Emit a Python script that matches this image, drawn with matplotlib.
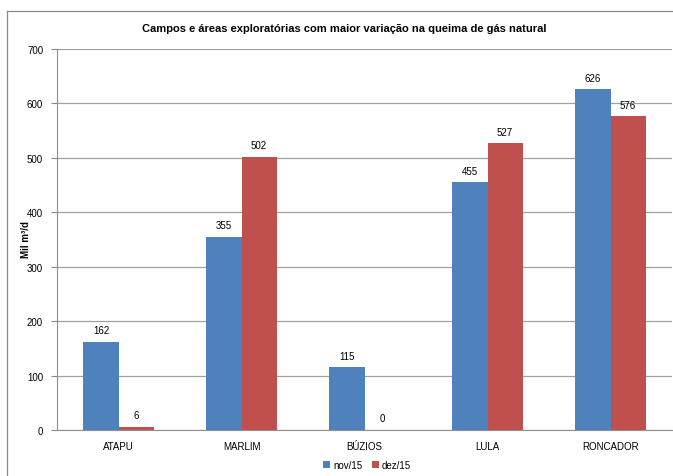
import matplotlib
matplotlib.use("Agg")
import matplotlib.pyplot as plt
import numpy as np
from matplotlib.lines import Line2D

categories = ["ATAPU", "MARLIM", "BÚZIOS", "LULA", "RONCADOR"]
nov15 = [162, 355, 115, 455, 626]
dez15 = [6, 502, 0, 527, 576]
series_names = ["nov/15", "dez/15"]

plt.rcParams['font.family'] = ['Liberation Sans', 'DejaVu Sans']

fig = plt.figure(figsize=(6.73, 4.77), dpi=100)
ax = fig.add_axes([57/673, 46/477, 615/673, 381/477])

x = np.arange(len(categories))
w = 0.285
b1 = ax.bar(x - w/2, nov15, w, color="#4F81BD", label=series_names[0])
b2 = ax.bar(x + w/2, dez15, w, color="#C0504D", label=series_names[1])

for bars, vals in ((b1, nov15), (b2, dez15)):
    for r, v in zip(bars, vals):
        ax.text(r.get_x() + r.get_width()/2, v + 12, str(v), ha="center", va="bottom", fontsize=7)

ax.set_xlim(-0.5, len(categories) - 0.5)
ax.set_ylim(0, 700)
ax.set_yticks(range(0, 701, 100))
ax.set_xticks(x)
ax.set_xticklabels(categories, fontsize=7)
ax.tick_params(axis='y', labelsize=7, length=4, color="#888888", pad=6)
ax.tick_params(axis='x', length=0, pad=8)
ax.yaxis.grid(True, color="#A0A0A0", linewidth=0.9)
ax.set_axisbelow(True)
for s in ["top", "right"]:
    ax.spines[s].set_visible(False)
for s in ["left", "bottom"]:
    ax.spines[s].set_color("#909090")

fig.text(26/673, 1 - 240/477, "Mil m³/d", rotation=90, ha="center", va="center",
         fontsize=7, fontweight="bold")

fig.text(344/673, 1 - 29/477, "Campos e áreas exploratórias com maior variação na queima de gás natural",
         ha="center", va="center", fontsize=8, fontweight="bold")

ax.legend(loc="center", bbox_to_anchor=(367/673, 1 - 466/477), bbox_transform=fig.transFigure,
          ncol=2, frameon=False, fontsize=7, handlelength=0.7, handleheight=0.7,
          handletextpad=0.3, columnspacing=1.0)

fig.add_artist(Line2D([7/673, 7/673], [0, 1 - 12/477], transform=fig.transFigure, color="#888888", linewidth=0.9))
fig.add_artist(Line2D([7/673, 1], [1 - 12/477, 1 - 12/477], transform=fig.transFigure, color="#888888", linewidth=0.9))

fig.savefig("out.png", dpi=100)
